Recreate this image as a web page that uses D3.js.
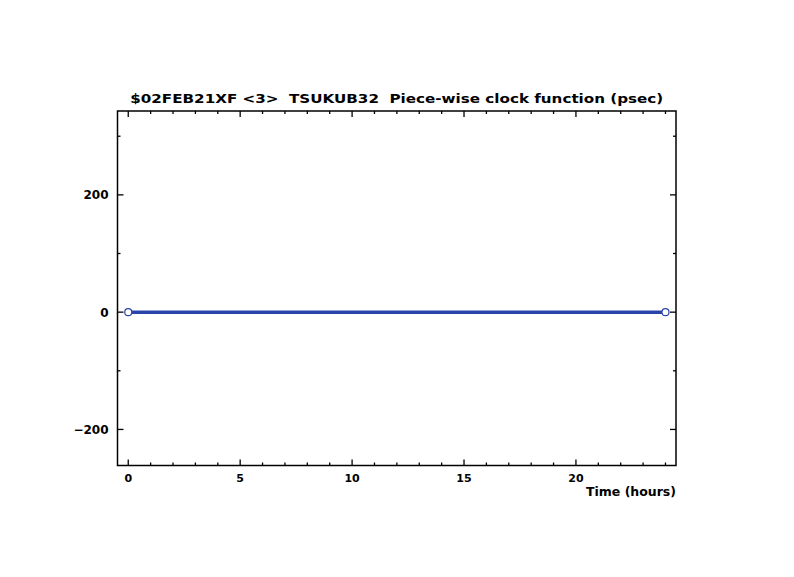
<!DOCTYPE html>
<html>
<head>
<meta charset="utf-8">
<title>Piece-wise clock function</title>
<script src="https://d3js.org/d3.v7.min.js"></script>
<style>
  body { margin: 0; background: #fff; }
  text { font-family: "DejaVu Sans", sans-serif; font-weight: bold; fill: #000; white-space: pre; }
</style>
</head>
<body>
<div id="chart"></div>
<script>
// data
var hours = [0, 24];
var clockPsec = [0, 0];
var yMajor = [-200, 0, 200];
var yMinor = [-100, 100, 300];
var xMajor = [0, 5, 10, 15, 20];
var titleText = "$02FEB21XF <3>  TSUKUB32  Piece-wise clock function (psec)";
var xLabel = "Time (hours)";

var W = 794, H = 577;
var margin = { top: 111, right: 118, bottom: 111.5, left: 117.5 };
var width = W - margin.left - margin.right,
    height = H - margin.top - margin.bottom;

var svg = d3.select("#chart").append("svg")
    .attr("width", W).attr("height", H);
var g = svg.append("g")
    .attr("transform", "translate(" + margin.left + "," + margin.top + ")");

var x = d3.scaleLinear().domain([-0.48, 24.47]).range([0, width]);
var y = d3.scaleLinear().domain([-261.5, 343]).range([height, 0]);

var xMinor = d3.range(0, 25).filter(function (d) { return d % 5 !== 0; });

// frame
g.append("rect")
    .attr("width", width).attr("height", height)
    .attr("fill", "none").attr("stroke", "#000").attr("stroke-width", 1.5);

function ticksX(vals, len) {
    vals.forEach(function (v) {
        g.append("line").attr("x1", x(v)).attr("x2", x(v))
            .attr("y1", height).attr("y2", height - len)
            .attr("stroke", "#000").attr("stroke-width", 1.3);
        g.append("line").attr("x1", x(v)).attr("x2", x(v))
            .attr("y1", 0).attr("y2", len)
            .attr("stroke", "#000").attr("stroke-width", 1.3);
    });
}
function ticksY(vals, len) {
    vals.forEach(function (v) {
        g.append("line").attr("y1", y(v)).attr("y2", y(v))
            .attr("x1", 0).attr("x2", len)
            .attr("stroke", "#000").attr("stroke-width", 1.3);
        g.append("line").attr("y1", y(v)).attr("y2", y(v))
            .attr("x1", width).attr("x2", width - len)
            .attr("stroke", "#000").attr("stroke-width", 1.3);
    });
}
ticksX(xMajor, 6);
ticksX(xMinor, 3);
ticksY(yMajor, 6);
ticksY(yMinor, 3);

// tick labels
g.selectAll(".xl").data(xMajor).enter().append("text")
    .attr("class", "xl")
    .attr("x", function (d) { return x(d); })
    .attr("y", height + 16)
    .attr("text-anchor", "middle")
    .style("font-size", "11px")
    .text(function (d) { return d; });

g.selectAll(".yl").data(yMajor).enter().append("text")
    .attr("class", "yl")
    .attr("x", -9)
    .attr("y", function (d) { return y(d) + 4.5; })
    .attr("text-anchor", "end")
    .style("font-size", "12px")
    .text(function (d) { return d < 0 ? "\u2212" + Math.abs(d) : d; });

// title and axis label
g.append("text")
    .attr("x", width / 2).attr("y", -8)
    .attr("text-anchor", "middle")
    .attr("textLength", 533).attr("lengthAdjust", "spacingAndGlyphs")
    .style("font-size", "13px")
    .text(titleText);

g.append("text")
    .attr("x", width).attr("y", height + 30)
    .attr("text-anchor", "end")
    .attr("textLength", 90).attr("lengthAdjust", "spacingAndGlyphs")
    .style("font-size", "12px")
    .text(xLabel);

// series
var pts = hours.map(function (h, i) { return { h: h, v: clockPsec[i] }; });
var line = d3.line().x(function (d) { return x(d.h); }).y(function (d) { return y(d.v); });
g.append("path").datum(pts)
    .attr("d", line)
    .attr("fill", "none").attr("stroke", "#2a44aa").attr("stroke-width", 3.5);
g.selectAll(".pt").data(pts).enter().append("circle")
    .attr("class", "pt")
    .attr("cx", function (d) { return x(d.h); })
    .attr("cy", function (d) { return y(d.v); })
    .attr("r", 3.5)
    .attr("fill", "#fff").attr("stroke", "#2a44aa").attr("stroke-width", 1.2);
</script>
</body>
</html>
